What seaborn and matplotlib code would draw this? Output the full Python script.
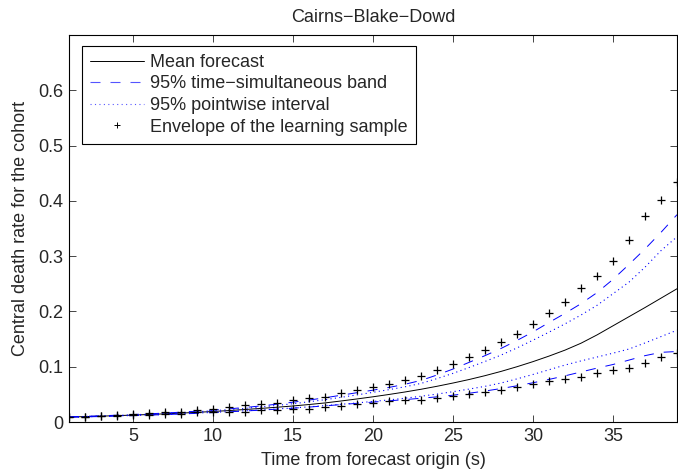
import numpy as np
import pandas as pd
import seaborn as sns
import matplotlib.pyplot as plt
from matplotlib.lines import Line2D

# forecast horizon (years from forecast origin)
years = list(range(1, 40))

mean_forecast = [
    0.0090, 0.0098, 0.0106, 0.0115, 0.0125, 0.0136, 0.0148, 0.0161, 0.0175, 0.0190,
    0.0207, 0.0226, 0.0246, 0.0267, 0.0290, 0.0316, 0.0345, 0.0380, 0.0417, 0.0456,
    0.0498, 0.0543, 0.0592, 0.0646, 0.0705, 0.0768, 0.0838, 0.0915, 0.1000, 0.1092,
    0.1192, 0.1300, 0.1425, 0.1575, 0.1740, 0.1905, 0.2070, 0.2240, 0.2410,
]
band_upper = [
    0.0093, 0.0102, 0.0112, 0.0123, 0.0135, 0.0148, 0.0162, 0.0178, 0.0196, 0.0215,
    0.0238, 0.0263, 0.0291, 0.0322, 0.0358, 0.0397, 0.0438, 0.0484, 0.0530, 0.0576,
    0.0625, 0.0683, 0.0752, 0.0850, 0.0958, 0.1078, 0.1200, 0.1330, 0.1475, 0.1630,
    0.1800, 0.1965, 0.2140, 0.2340, 0.2580, 0.2850, 0.3130, 0.3430, 0.3750,
]
band_lower = [
    0.0087, 0.0093, 0.0099, 0.0107, 0.0115, 0.0124, 0.0134, 0.0145, 0.0157, 0.0170,
    0.0184, 0.0199, 0.0215, 0.0232, 0.0250, 0.0270, 0.0292, 0.0315, 0.0338, 0.0360,
    0.0383, 0.0405, 0.0430, 0.0455, 0.0485, 0.0520, 0.0560, 0.0605, 0.0655, 0.0710,
    0.0770, 0.0835, 0.0905, 0.0975, 0.1040, 0.1120, 0.1200, 0.1260, 0.1275,
]
pointwise_upper = [
    0.0092, 0.0100, 0.0109, 0.0119, 0.0130, 0.0142, 0.0155, 0.0170, 0.0186, 0.0204,
    0.0224, 0.0247, 0.0272, 0.0300, 0.0331, 0.0366, 0.0404, 0.0446, 0.0490, 0.0537,
    0.0585, 0.0637, 0.0698, 0.0785, 0.0880, 0.0985, 0.1095, 0.1210, 0.1340, 0.1480,
    0.1625, 0.1775, 0.1935, 0.2110, 0.2320, 0.2530, 0.2800, 0.3100, 0.3350,
]
pointwise_lower = [
    0.0088, 0.0095, 0.0102, 0.0110, 0.0119, 0.0128, 0.0138, 0.0149, 0.0161, 0.0174,
    0.0188, 0.0203, 0.0219, 0.0236, 0.0254, 0.0274, 0.0296, 0.0320, 0.0345, 0.0372,
    0.0400, 0.0430, 0.0466, 0.0505, 0.0548, 0.0595, 0.0645, 0.0705, 0.0780, 0.0860,
    0.0945, 0.1030, 0.1105, 0.1175, 0.1245, 0.1320, 0.1430, 0.1545, 0.1660,
]
envelope_upper = [
    0.0090, 0.0096, 0.0108, 0.0127, 0.0140, 0.0168, 0.0180, 0.0180, 0.0210, 0.0240,
    0.0277, 0.0307, 0.0325, 0.0350, 0.0403, 0.0434, 0.0452, 0.0519, 0.0579, 0.0633,
    0.0687, 0.0759, 0.0837, 0.0935, 0.1043, 0.1180, 0.1300, 0.1450, 0.1590, 0.1770,
    0.1970, 0.2175, 0.2420, 0.2646, 0.2920, 0.3290, 0.3730, 0.4010, 0.4345,
]
envelope_lower = [
    0.0090, 0.0096, 0.0104, 0.0115, 0.0125, 0.0130, 0.0145, 0.0145, 0.0175, 0.0180,
    0.0175, 0.0187, 0.0210, 0.0217, 0.0230, 0.0240, 0.0265, 0.0295, 0.0326, 0.0350,
    0.0380, 0.0398, 0.0398, 0.0428, 0.0476, 0.0500, 0.0548, 0.0579, 0.0633, 0.0682,
    0.0736, 0.0783, 0.0814, 0.0892, 0.0945, 0.0970, 0.1067, 0.1175, 0.1250,
]

x_ticks = [5, 10, 15, 20, 25, 30, 35]
y_ticks = [0, 0.1, 0.2, 0.3, 0.4, 0.5, 0.6]

df = pd.DataFrame({
    "t": years,
    "mean": mean_forecast,
    "band_up": band_upper,
    "band_lo": band_lower,
    "pw_up": pointwise_upper,
    "pw_lo": pointwise_lower,
    "env_up": envelope_upper,
    "env_lo": envelope_lower,
})

FS = 13

sns.set_style("ticks")
plt.rcParams["font.family"] = ["Liberation Sans", "DejaVu Sans"]
plt.rcParams["font.size"] = FS
plt.rcParams["xtick.direction"] = "in"
plt.rcParams["ytick.direction"] = "in"
plt.rcParams["lines.scale_dashes"] = False

fig = plt.figure(figsize=(6.78, 4.69), dpi=100)
ax = fig.add_axes([69 / 678, 1 - 422 / 469, 608 / 678, 387 / 469])

dash_style = (0, (7.2, 7.2))
dot_style = (0, (0.8, 2.4))

sns.lineplot(data=df, x="t", y="mean", color="black", linewidth=0.7, ax=ax, estimator=None)
sns.lineplot(data=df, x="t", y="band_up", color="blue", linewidth=0.7, linestyle=dash_style, ax=ax, estimator=None)
sns.lineplot(data=df, x="t", y="band_lo", color="blue", linewidth=0.7, linestyle=dash_style, ax=ax, estimator=None)
sns.lineplot(data=df, x="t", y="pw_up", color="blue", linewidth=0.8, linestyle=dot_style, ax=ax, estimator=None)
sns.lineplot(data=df, x="t", y="pw_lo", color="blue", linewidth=0.8, linestyle=dot_style, ax=ax, estimator=None)
for col in ["env_up", "env_lo"]:
    sns.lineplot(data=df, x="t", y=col, color="black", linestyle="", marker="+",
                 markersize=6, markeredgewidth=0.9, markeredgecolor="black",
                 ax=ax, estimator=None)

ax.set_xlim(1, 39)
ax.set_ylim(0, 0.7)
ax.set_xticks(x_ticks)
ax.set_yticks(y_ticks)
ax.set_yticklabels(["0", "0.1", "0.2", "0.3", "0.4", "0.5", "0.6"])
ax.tick_params(axis="both", which="both", direction="in", length=5, width=0.6,
               top=True, right=True, labelsize=FS, pad=4)
for s in ax.spines.values():
    s.set_linewidth(0.8)
    s.set_color("black")

ax.set_title("Cairns\u2212Blake\u2212Dowd", fontsize=FS, pad=9)
ax.set_xlabel("Time from forecast origin (s)", fontsize=FS, labelpad=5)
ax.set_ylabel("Central death rate for the cohort", fontsize=FS, labelpad=7)

handles = [
    Line2D([], [], color="black", linewidth=0.7),
    Line2D([], [], color="#5555ff", linewidth=0.8, linestyle=dash_style),
    Line2D([], [], color="#5555ff", linewidth=0.8, linestyle=dot_style),
    Line2D([], [], color="black", linestyle="", marker="+", markersize=4, markeredgewidth=0.7),
]
labels = [
    "Mean forecast",
    "95% time\u2212simultaneous band",
    "95% pointwise interval",
    "Envelope of the learning sample",
]
leg = ax.legend(handles, labels, loc="upper left", bbox_to_anchor=(0.0214, 0.972),
                borderaxespad=0, fontsize=FS, handlelength=3.0, handletextpad=0.33,
                labelspacing=0.25, borderpad=0.45, fancybox=False, framealpha=1)
leg.get_frame().set_edgecolor("black")
leg.get_frame().set_linewidth(0.8)

fig.savefig("out.png", dpi=100)
